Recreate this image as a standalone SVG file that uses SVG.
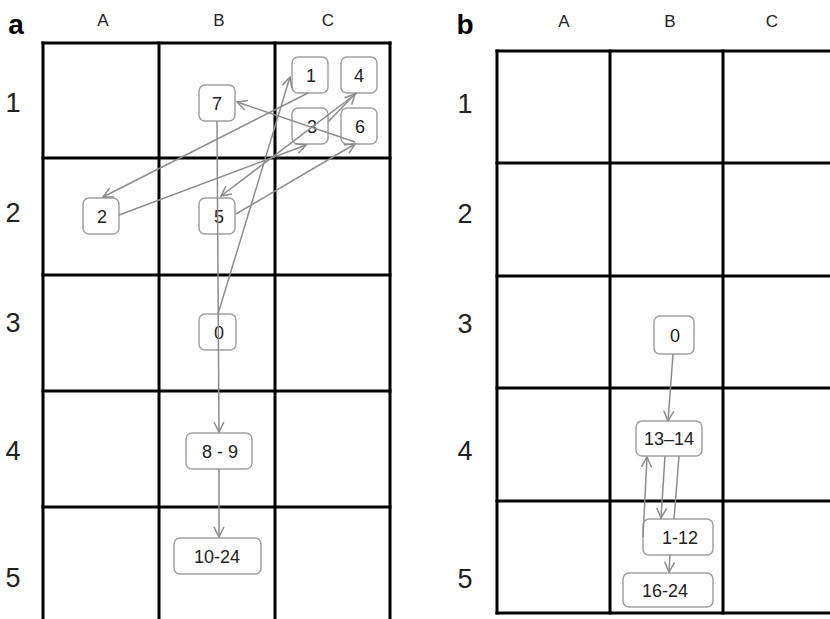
<svg xmlns="http://www.w3.org/2000/svg" width="830" height="619" viewBox="0 0 830 619">
<defs>
<marker id="arr" viewBox="0 0 12 12" refX="11" refY="6" markerWidth="12" markerHeight="12" markerUnits="userSpaceOnUse" orient="auto">
<path d="M1,1 L11,6 L1,11" fill="none" stroke="#8c8c8c" stroke-width="1.5"/>
</marker>
</defs>
<style>
.grid{stroke:#000;stroke-width:3;fill:none;stroke-linecap:square}
.lab{font-family:"Liberation Sans",Arial,sans-serif;fill:#222;text-anchor:middle}
.col{font-size:17px}
.row{font-size:27px}
.pan{font-size:28px;font-weight:bold;fill:#000}
.node rect{fill:#fff;stroke:#a0a0a0;stroke-width:1.5}
.node text{font-family:"Liberation Sans",Arial,sans-serif;font-size:18px;fill:#222;text-anchor:middle}
.edge{stroke:#8c8c8c;stroke-width:1.5;fill:none}
.arrow{marker-end:url(#arr)}
</style>
<rect width="830" height="619" fill="#fff"/>
<!-- Panel a grid -->
<g id="grid-a" class="grid">
<line x1="43" y1="43" x2="43" y2="619"/>
<line x1="159" y1="43" x2="159" y2="619"/>
<line x1="275" y1="43" x2="275" y2="619"/>
<line x1="390" y1="43" x2="390" y2="619"/>
<line x1="43" y1="43" x2="390" y2="43"/>
<line x1="43" y1="158" x2="390" y2="158"/>
<line x1="43" y1="275" x2="390" y2="275"/>
<line x1="43" y1="391" x2="390" y2="391"/>
<line x1="43" y1="507" x2="390" y2="507"/>
</g>
<!-- Panel b grid -->
<g id="grid-b" class="grid">
<line x1="497" y1="51" x2="497" y2="613"/>
<line x1="610" y1="51" x2="610" y2="613"/>
<line x1="723" y1="51" x2="723" y2="613"/>
<line x1="497" y1="51" x2="832" y2="51"/>
<line x1="497" y1="163" x2="832" y2="163"/>
<line x1="497" y1="276" x2="832" y2="276"/>
<line x1="497" y1="388" x2="832" y2="388"/>
<line x1="497" y1="501" x2="832" y2="501"/>
<line x1="497" y1="613" x2="832" y2="613"/>
</g>
<!-- labels -->
<g id="labels">
<text class="lab pan" x="16" y="34">a</text>
<text class="lab col" x="103" y="26">A</text>
<text class="lab col" x="219" y="26">B</text>
<text class="lab col" x="328" y="26">C</text>
<text class="lab row" x="13" y="112">1</text>
<text class="lab row" x="13" y="222">2</text>
<text class="lab row" x="13" y="332">3</text>
<text class="lab row" x="13" y="460">4</text>
<text class="lab row" x="13" y="587">5</text>
<text class="lab pan" x="465" y="34">b</text>
<text class="lab col" x="564" y="27">A</text>
<text class="lab col" x="670" y="27">B</text>
<text class="lab col" x="772" y="27">C</text>
<text class="lab row" x="465" y="113">1</text>
<text class="lab row" x="465" y="223">2</text>
<text class="lab row" x="465" y="333">3</text>
<text class="lab row" x="465" y="460">4</text>
<text class="lab row" x="465" y="588">5</text>
</g>
<!-- Panel a nodes -->
<g id="a-n1" class="node"><rect x="292" y="57" width="36" height="36" rx="6"/><text x="311" y="82">1</text></g>
<g id="a-n4" class="node"><rect x="341" y="57" width="36" height="36" rx="6"/><text x="359" y="82">4</text></g>
<g id="a-n7" class="node"><rect x="199" y="85" width="36" height="36" rx="6"/><text x="217" y="110">7</text></g>
<g id="a-n3" class="node"><rect x="292" y="108" width="36" height="36" rx="6"/><text x="312" y="133">3</text></g>
<g id="a-n6" class="node"><rect x="341" y="108" width="36" height="36" rx="6"/><text x="360" y="133">6</text></g>
<g id="a-n2" class="node"><rect x="83" y="198" width="36" height="36" rx="6"/><text x="102" y="223">2</text></g>
<g id="a-n5" class="node"><rect x="199" y="198" width="36" height="36" rx="6"/><text x="219" y="223">5</text></g>
<g id="a-n0" class="node"><rect x="199" y="314" width="37" height="36" rx="6"/><text x="219" y="339">0</text></g>
<g id="a-n8-9" class="node"><rect x="186" y="433" width="66" height="36" rx="6"/><text x="220" y="458">8 - 9</text></g>
<g id="a-n10-24" class="node"><rect x="174" y="538" width="87" height="36" rx="6"/><text x="217" y="563">10-24</text></g>
<!-- Panel b nodes -->
<g id="b-n0" class="node"><rect x="654" y="316" width="40" height="38" rx="6"/><text x="675" y="342">0</text></g>
<g id="b-n13-14" class="node"><rect x="636" y="421" width="66" height="35" rx="6"/><text x="669" y="445">13–14</text></g>
<g id="b-n1-12" class="node"><rect x="643" y="519" width="70" height="36" rx="6"/><text x="680" y="544">1-12</text></g>
<g id="b-n16-24" class="node"><rect x="623" y="573" width="90" height="34" rx="6"/><text x="665" y="597">16-24</text></g>
<!-- connectors -->
<g id="connectors">
<line class="edge arrow" x1="218" y1="314" x2="290" y2="77"/>
<line class="edge arrow" x1="308" y1="93" x2="103" y2="197"/>
<line class="edge arrow" x1="119" y1="215" x2="306" y2="145"/>
<line class="edge arrow" x1="328" y1="122" x2="355" y2="94"/>
<line class="edge arrow" x1="357" y1="93" x2="221" y2="196"/>
<line class="edge arrow" x1="236" y1="214" x2="355" y2="144"/>
<line class="edge arrow" x1="355" y1="142" x2="237" y2="102"/>
<line class="edge arrow" x1="217" y1="121" x2="219" y2="432"/>
<line class="edge arrow" x1="219" y1="469" x2="219" y2="537"/>
<line class="edge arrow" x1="673" y1="354" x2="668" y2="421"/>
<line class="edge arrow" x1="665" y1="456" x2="661" y2="518"/>
<line class="edge arrow" x1="643" y1="537" x2="647" y2="457"/>
<line class="edge" x1="674" y1="519" x2="679" y2="456"/>
<line class="edge arrow" x1="670" y1="555" x2="669" y2="572"/>
</g>
</svg>
